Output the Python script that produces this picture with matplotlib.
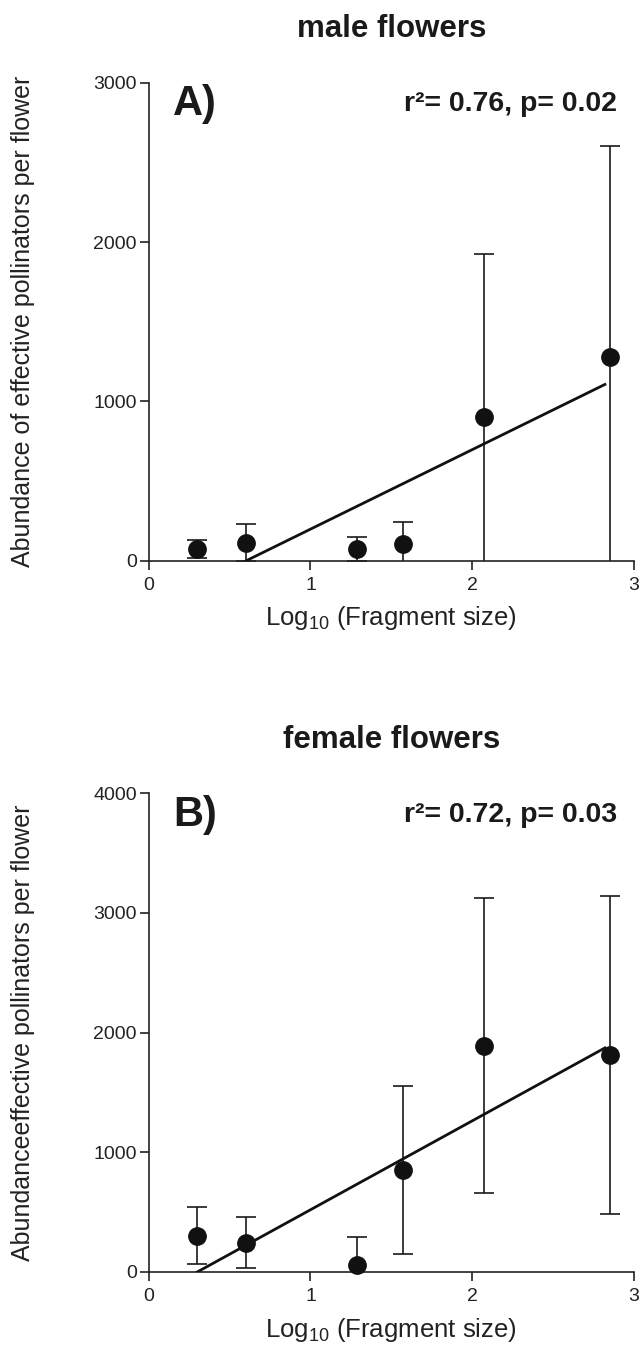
import matplotlib
import matplotlib.pyplot as plt

matplotlib.use('Agg')

plt.rcParams['font.family'] = ['Liberation Sans', 'DejaVu Sans']
plt.rcParams['mathtext.fontset'] = 'custom'
plt.rcParams['mathtext.rm'] = 'Liberation Sans'
plt.rcParams['mathtext.it'] = 'Liberation Sans'
plt.rcParams['mathtext.bf'] = 'Liberation Sans:bold'

# log10 of fragment size (shared by both panels)
fragment_log = [0.30, 0.60, 1.29, 1.57, 2.07, 2.85]

# male flowers: mean and error of pollinator abundance
male_mean = [73, 113, 73, 104, 900, 1277]
male_err = [57, 116, 73, 136, 1025, 1327]
male_fit = (499, -301)          # slope, intercept
male_stats = 'r²= 0.76, p= 0.02'

# female flowers
female_mean = [304, 245, 56, 852, 1891, 1813]
female_err = [235, 212, 236, 700, 1230, 1327]
female_fit = (743, -223)
female_stats = 'r²= 0.72, p= 0.03'

fit_range = [0.30, 2.82]

x_ticks = [0, 1, 2, 3]
male_yticks = [0, 1000, 2000, 3000]
female_yticks = [0, 1000, 2000, 3000, 4000]

W, H = 641, 1348
fig = plt.figure(figsize=(W / 100, H / 100), dpi=100)


def draw_panel(ax, mean, err, fit, stats, yticks, letter, title, ylabel):
    ax.errorbar(fragment_log, mean, yerr=err, fmt='none', ecolor='#1a1a1a',
                elinewidth=1.2, capsize=7, capthick=1.2, zorder=2)
    ax.plot(fragment_log, mean, 'o', color='#111111', markersize=12.5,
            clip_on=False, zorder=4)

    slope, intercept = fit
    fy = [slope * x + intercept for x in fit_range]
    ax.plot(fit_range, fy, color='#111111', lw=2, zorder=3)

    ax.set_xlim(0, 3)
    ax.set_ylim(yticks[0], yticks[-1])
    ax.set_xticks(x_ticks)
    ax.set_yticks(yticks)

    for side in ('top', 'right'):
        ax.spines[side].set_visible(False)
    for side in ('left', 'bottom'):
        ax.spines[side].set_linewidth(1.2)
        ax.spines[side].set_color('#222222')
    ax.tick_params(axis='both', direction='out', length=6.5, width=1.2,
                   color='#222222', labelsize=14, labelcolor='#222222')
    ax.tick_params(axis='x', pad=5)
    ax.tick_params(axis='y', pad=2)

    ax.text(0.5, 1.095, title, transform=ax.transAxes, ha='center',
            va='baseline', fontsize=22.5, fontweight='bold', color='#1a1a1a')
    ax.text(0.05, 0.932, letter, transform=ax.transAxes, ha='left',
            va='baseline', fontsize=30, fontweight='bold', color='#1a1a1a')
    ax.text(0.965, 0.94, stats, transform=ax.transAxes, ha='right',
            va='baseline', fontsize=20.5, fontweight='bold', color='#1a1a1a')

    ax.text(0.5, -0.135, r'Log$_{10}$ (Fragment size)', transform=ax.transAxes,
            ha='center', va='baseline', fontsize=18.5, color='#222222')
    ax.text(-0.258, 0.5, ylabel, transform=ax.transAxes, rotation=90,
            ha='center', va='center', fontsize=18, color='#222222')


ax_top = fig.add_axes([148.7 / W, (H - 560.7) / H, (634 - 148.7) / W, (560.7 - 82.7) / H])
ax_bot = fig.add_axes([148.7 / W, (H - 1272) / H, (634 - 148.7) / W, (1272 - 793.3) / H])

draw_panel(ax_top, male_mean, male_err, male_fit, male_stats, male_yticks,
           'A)', 'male flowers', 'Abundance of effective pollinators per flower')
draw_panel(ax_bot, female_mean, female_err, female_fit, female_stats, female_yticks,
           'B)', 'female flowers', 'Abundanceeffective pollinators per flower')

fig.savefig('out.png', dpi=100)
